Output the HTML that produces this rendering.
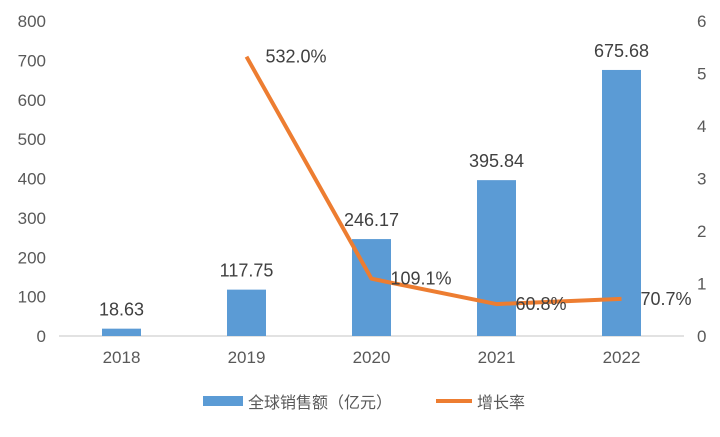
<!DOCTYPE html>
<html><head><meta charset="utf-8"><style>
body{margin:0;background:#fff}
svg text{font-family:"Liberation Sans","Noto Sans CJK SC",sans-serif;fill:#595959}
</style></head><body>
<svg width="720" height="432">
<g id="axes"></g><g id="bars"></g><g id="line"></g><g id="labels"></g>
<g>
<rect x="203" y="396" width="40" height="10" fill="#5b9bd5"/>
<text x="248" y="408" font-size="16">全球销售额（亿元）</text>
<line x1="436" y1="401" x2="472" y2="401" stroke="#ed7d31" stroke-width="4"/>
<text x="477" y="408" font-size="16">增长率</text>
</g>
</svg>
<script>
const categories=["2018","2019","2020","2021","2022"];
const sales=[18.63,117.75,246.17,395.84,675.68];
const growth=[null,5.32,1.091,0.608,0.707];
const growthLabels=["","532.0%","109.1%","60.8%","70.7%"];
const leftTicks=[0,100,200,300,400,500,600,700,800];
const rightTicks=[0,1,2,3,4,5,6];
const NS="http://www.w3.org/2000/svg";
const X0=59,X1=684,Y0=336,Y1=21;
const band=(X1-X0)/categories.length;
const xc=i=>X0+band*(i+0.5);
const yl=v=>Y0-(v/800)*(Y0-Y1);
const yr=v=>Y0-(v/6)*(Y0-Y1);
function mk(tag,attrs,parent,txt){const e=document.createElementNS(NS,tag);for(const k in attrs)e.setAttribute(k,attrs[k]);if(txt!=null)e.textContent=txt;document.getElementById(parent).appendChild(e);return e;}
let e=mk("line",{x1:X0,x2:X1,y1:Y0,y2:Y0,stroke:"#d9d9d9","stroke-width":1.5},"axes");


leftTicks.forEach(t=>{const el=mk("text",{x:46,y:yl(t)+6,"font-size":17,"text-anchor":"end"},"axes",t);

});
rightTicks.forEach(t=>{const el=mk("text",{x:697,y:yr(t)+6,"font-size":17},"axes",t);

});
categories.forEach((c,i)=>{const el=mk("text",{x:xc(i),y:363,"font-size":17,"text-anchor":"middle"},"axes",c);

});
const bw=39;
sales.forEach((v,i)=>{const r=mk("rect",{x:xc(i)-bw/2,y:yl(v),width:bw,height:Y0-yl(v),fill:"#5b9bd5"},"bars");


const t=mk("text",{x:xc(i),y:yl(v)-13,"font-size":18,"text-anchor":"middle","style":"fill:#404040"},"labels",v.toFixed(2));

});
const pts=[];growth.forEach((g,i)=>{if(g!=null)pts.push([xc(i),yr(g),i]);});
const p=mk("polyline",{points:pts.map(q=>q[0]+","+q[1]).join(" "),fill:"none",stroke:"#ed7d31","stroke-width":4,"stroke-linejoin":"round"},"line");


pts.forEach(q=>{const t=mk("text",{x:q[0]+19,y:q[1]+6,"font-size":18,"style":"fill:#404040"},"labels",growthLabels[q[2]]);

});
</script>
</body></html>
